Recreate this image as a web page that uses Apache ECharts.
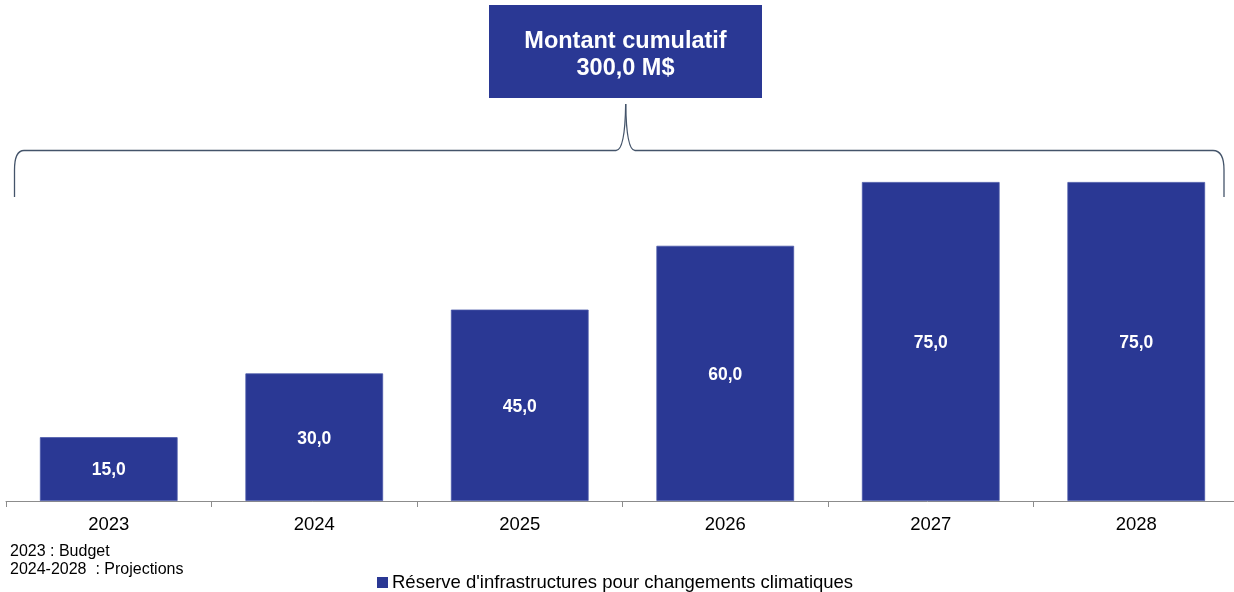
<!DOCTYPE html>
<html>
<head>
<meta charset="utf-8">
<script src="https://cdn.jsdelivr.net/npm/echarts@6/dist/echarts.min.js"></script>
<style>
  html, body { margin: 0; padding: 0; background: #fff; }
  #chart { width: 1234px; height: 592px; }
</style>
</head>
<body>
<div id="chart"></div>
<script>
// Annual contributions to the climate-change infrastructure reserve (M$)
const years = ['2023', '2024', '2025', '2026', '2027', '2028'];
const amounts = [15.0, 30.0, 45.0, 60.0, 75.0, 75.0];
const seriesName = "Réserve d'infrastructures pour changements climatiques";
const totalLabel = ['Montant cumulatif', '300,0 M$'];
const notes = ['2023 : Budget', '2024-2028  : Projections'];

const FONT = '"Liberation Sans", Arial, sans-serif';
const BAR = '#2a3894';
const BRACE = '#44546a';
const fmt = v => v.toFixed(1).replace('.', ',');

// curly brace pieces
const braceStyle = { stroke: BRACE, lineWidth: 1.3, fill: 'none' };
const seg = (x1, y1, x2, y2) => ({ type: 'line', shape: { x1, y1, x2, y2 }, style: braceStyle });
const curve = (x1, y1, cpx1, cpy1, x2, y2) => ({ type: 'bezierCurve', shape: { x1, y1, cpx1, cpy1, x2, y2 }, style: braceStyle });

const chart = echarts.init(document.getElementById('chart'), null, { renderer: 'canvas' });

chart.setOption({
  animation: false,
  textStyle: { fontFamily: FONT },
  grid: { left: 6, width: 1233, top: 182, bottom: 91, containLabel: false, outerBoundsMode: 'none' },
  xAxis: {
    type: 'category',
    data: years,
    boundaryGap: true,
    axisLine: { lineStyle: { color: '#8c8c8c', width: 1 } },
    axisTick: { show: true, length: 6, lineStyle: { color: '#8c8c8c' } },
    axisLabel: { color: '#000', fontSize: 18.5, margin: 14, fontFamily: FONT }
  },
  yAxis: {
    type: 'value',
    min: 0,
    max: 75,
    show: false,
    splitLine: { show: false }
  },
  legend: {
    data: [seriesName],
    left: 372,
    top: 568,
    icon: 'rect',
    itemWidth: 11,
    itemHeight: 11,
    itemGap: 4,
    itemStyle: { borderWidth: 0 },
    textStyle: { color: '#000', fontSize: 18.5, fontFamily: FONT, padding: [0, 0, 0, -1] }
  },
  series: [{
    name: seriesName,
    type: 'bar',
    data: amounts,
    barCategoryGap: '33%',
    itemStyle: { color: BAR, borderColor: '#4a58a8', borderWidth: 0.8 },
    label: {
      show: true,
      position: 'inside',
      offset: [0, 1.5],
      color: '#fff',
      fontWeight: 'bold',
      fontSize: 17.5,
      fontFamily: FONT,
      formatter: p => fmt(p.value)
    }
  }],
  graphic: [
    seg(14.5, 197, 14.5, 170),
    curve(14.5, 170, 14.5, 150.5, 24, 150.5),
    seg(24, 150.5, 616, 150.5),
    curve(616, 150.5, 625, 150.5, 625.7, 104),
    curve(625.7, 104, 626.4, 150.5, 635, 150.5),
    seg(635, 150.5, 1213, 150.5),
    curve(1213, 150.5, 1224, 150.5, 1224, 170),
    seg(1224, 170, 1224, 197),
    // cumulative total box
    {
      type: 'rect',
      shape: { x: 489, y: 5, width: 273, height: 93 },
      style: { fill: BAR }
    },
    {
      type: 'text',
      x: 625.5, y: 41.5,
      style: {
        text: totalLabel[0],
        fill: '#fff', font: 'bold 23.5px ' + FONT,
        align: 'center', verticalAlign: 'middle'
      }
    },
    {
      type: 'text',
      x: 625.5, y: 69,
      style: {
        text: totalLabel[1],
        fill: '#fff', font: 'bold 23.5px ' + FONT,
        align: 'center', verticalAlign: 'middle'
      }
    },
    // footnotes
    {
      type: 'text',
      x: 10, y: 551.5,
      style: { text: notes[0], fill: '#000', font: '16px ' + FONT, verticalAlign: 'middle' }
    },
    {
      type: 'text',
      x: 10, y: 570,
      style: { text: notes[1], fill: '#000', font: '16px ' + FONT, verticalAlign: 'middle' }
    }
  ]
});
</script>
</body>
</html>
